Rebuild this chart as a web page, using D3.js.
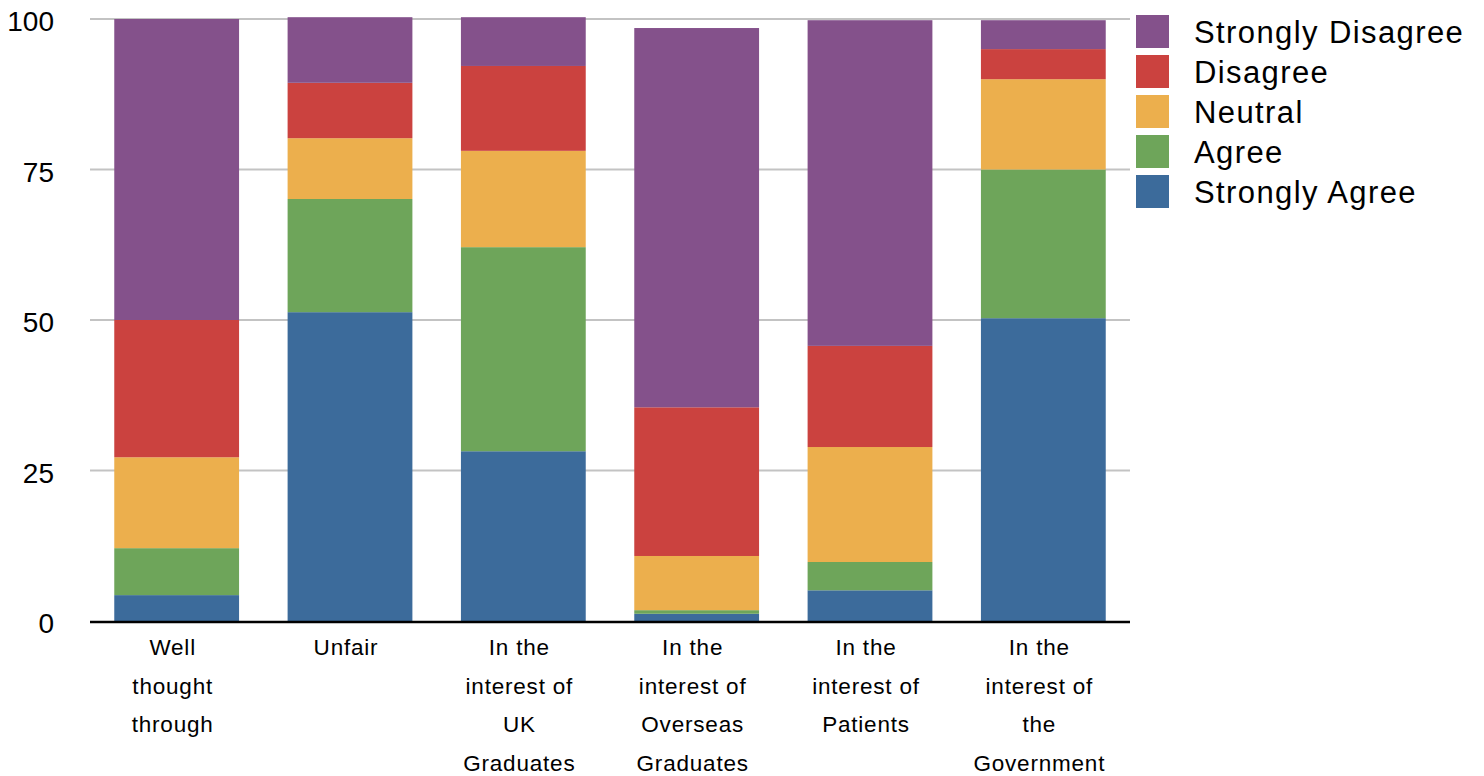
<!DOCTYPE html>
<html>
<head>
<meta charset="utf-8">
<script src="https://d3js.org/d3.v7.min.js"></script>
<style>
body { margin: 0; background: #fff; font-family: "Liberation Sans", Arial, Helvetica, sans-serif; }
svg { display: block; }
</style>
</head>
<body>
<svg width="1484" height="776"></svg>
<script>
// categories (x axis), each split into lines
var categories = ["Well thought through", "Unfair", "In the interest of UK Graduates",
  "In the interest of Overseas Graduates", "In the interest of Patients", "In the interest of the Government"];
var catLines = [["Well", "thought", "through"], ["Unfair"], ["In the", "interest of", "UK", "Graduates"],
  ["In the", "interest of", "Overseas", "Graduates"], ["In the", "interest of", "Patients"],
  ["In the", "interest of", "the", "Government"]];

// series, bottom to top
var seriesNames = ["Strongly Agree", "Agree", "Neutral", "Disagree", "Strongly Disagree"];
var stronglyAgree    = [4.3, 51.3, 28.2, 1.2, 5.1, 50.3];
var agree            = [7.8, 18.8, 33.9, 0.6, 4.7, 24.7];
var neutral          = [15.1, 10.1, 16.0, 9.0, 19.1, 15.0];
var disagree         = [22.8, 9.2, 14.1, 24.7, 16.8, 5.0];
var stronglyDisagree = [50.0, 10.9, 8.1, 63.0, 54.1, 4.8];
var colors = ["#3c6b9b", "#6ea55a", "#ecaf4d", "#cb423f", "#84518b"];
var yTicks = [0, 25, 50, 75, 100];

var svg = d3.select("svg");

var table = categories.map(function (c, i) {
  return { cat: c, "Strongly Agree": stronglyAgree[i], "Agree": agree[i], "Neutral": neutral[i],
    "Disagree": disagree[i], "Strongly Disagree": stronglyDisagree[i] };
});
var stacked = d3.stack().keys(seriesNames)(table);

var x = d3.scaleBand().domain(categories).range([90, 1130]).paddingInner(0.28).paddingOuter(0.14);
var y = d3.scaleLinear().domain([0, 100]).range([621, 19]);

// gridlines
svg.append("g").selectAll("line").data(yTicks.filter(function (d) { return d > 0; }))
  .join("line")
  .attr("x1", 90).attr("x2", 1130)
  .attr("y1", function (d) { return y(d); }).attr("y2", function (d) { return y(d); })
  .attr("stroke", "#c3c3c3").attr("stroke-width", 2);

// y tick labels
svg.append("g").selectAll("text").data(yTicks).join("text")
  .attr("x", 54).attr("y", function (d) { return y(d) + 12; })
  .attr("text-anchor", "end").attr("font-size", 28).attr("fill", "#000")
  .text(function (d) { return d; });

// bars
svg.append("g").selectAll("g").data(stacked).join("g")
  .attr("fill", function (d, i) { return colors[i]; })
  .selectAll("rect").data(function (d) { return d; }).join("rect")
  .attr("x", function (d) { return x(d.data.cat); })
  .attr("width", x.bandwidth())
  .attr("y", function (d) { return y(d[1]); })
  .attr("height", function (d) { return y(d[0]) - y(d[1]); });

// baseline
svg.append("line").attr("x1", 90).attr("x2", 1130).attr("y1", y(0) + 1).attr("y2", y(0) + 1)
  .attr("stroke", "#000").attr("stroke-width", 2.5);

// x labels
var xl = svg.append("g").selectAll("text").data(categories).join("text")
  .attr("text-anchor", "middle").attr("font-size", 22.5).attr("letter-spacing", 0.8).attr("fill", "#000");
xl.selectAll("tspan").data(function (d, i) { return catLines[i]; }).join("tspan")
  .attr("x", function () { var c = d3.select(this.parentNode).datum(); return x(c) + x.bandwidth() / 2 - 4; })
  .attr("y", function (d, i) { return 655 + i * 38.7; })
  .text(function (d) { return d; });

// legend, top to bottom
var legendOrder = seriesNames.slice().reverse();
var lg = svg.append("g").selectAll("g").data(legendOrder).join("g")
  .attr("transform", function (d, i) { return "translate(1136," + (15 + i * 40) + ")"; });
lg.append("rect").attr("width", 33).attr("height", 33)
  .attr("fill", function (d) { return colors[seriesNames.indexOf(d)]; });
lg.append("text").attr("x", 58).attr("y", 27.5).attr("font-size", 31).attr("letter-spacing", 1.4).attr("fill", "#000")
  .text(function (d) { return d; });
</script>
</body>
</html>
